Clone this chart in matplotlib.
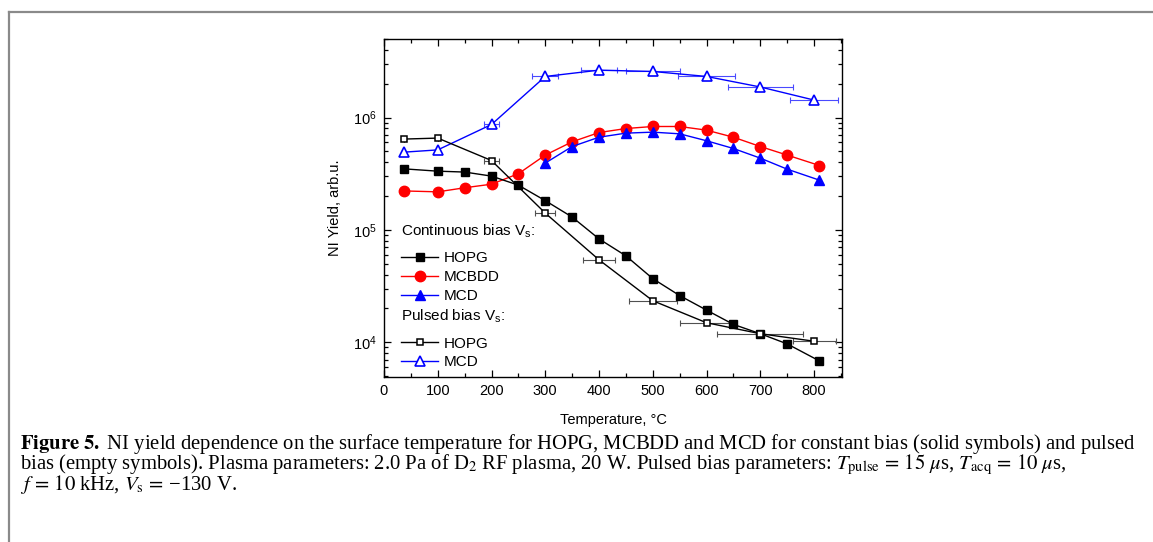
import numpy as np
import matplotlib
matplotlib.use("Agg")
import matplotlib.pyplot as plt
from matplotlib.lines import Line2D
from matplotlib.ticker import LogLocator, MultipleLocator, NullFormatter

plt.rcParams["font.family"] = ["Liberation Sans", "DejaVu Sans"]
plt.rcParams["mathtext.fontset"] = "custom"
plt.rcParams["mathtext.rm"] = "Liberation Sans"
plt.rcParams["mathtext.it"] = "Liberation Sans:italic"
plt.rcParams["mathtext.bf"] = "Liberation Sans:bold"

# ---- data (T in degC, yield in arb.u.) ----
T_hopg = [38, 100, 150, 200, 250, 300, 350, 400, 450, 500, 550, 600, 650, 700, 750, 810]
Y_hopg = [3.49e5, 3.33e5, 3.27e5, 3.01e5, 2.50e5, 1.82e5, 1.30e5, 8.31e4, 5.87e4,
          3.68e4, 2.60e4, 1.93e4, 1.44e4, 1.19e4, 9.66e3, 6.81e3]
T_mcbdd = [38, 100, 150, 200, 250, 300, 350, 400, 450, 500, 550, 600, 650, 700, 750, 810]
Y_mcbdd = [2.22e5, 2.18e5, 2.37e5, 2.55e5, 3.16e5, 4.63e5, 6.08e5, 7.35e5, 7.98e5,
           8.32e5, 8.32e5, 7.72e5, 6.68e5, 5.52e5, 4.63e5, 3.74e5]
T_mcd = [300, 350, 400, 450, 500, 550, 600, 650, 700, 750, 810]
Y_mcd = [3.93e5, 5.52e5, 6.68e5, 7.26e5, 7.41e5, 7.16e5, 6.21e5, 5.30e5, 4.35e5,
         3.47e5, 2.77e5]
# pulsed bias (open symbols) with temperature uncertainty
T_hopg_p = [38, 100, 200, 300, 400, 500, 600, 700, 800]
Y_hopg_p = [6.43e5, 6.56e5, 4.14e5, 1.41e5, 5.41e4, 2.34e4, 1.49e4, 1.19e4, 1.02e4]
dT_hopg_p = [0, 0, 14, 19, 30, 45, 50, 80, 40]
T_mcd_p = [38, 100, 200, 300, 400, 500, 600, 700, 800]
Y_mcd_p = [4.92e5, 5.15e5, 8.67e5, 2.32e6, 2.64e6, 2.57e6, 2.32e6, 1.87e6, 1.43e6]
dT_mcd_p = [0, 0, 14, 24, 33, 50, 53, 60, 45]

fig = plt.figure(figsize=(11.53, 5.42), dpi=100)
ax = fig.add_axes([384 / 1153, 1 - 377 / 542, 458 / 1153, 338 / 542])

lw = 1.0
ax.errorbar(T_hopg_p, Y_hopg_p, xerr=dT_hopg_p, fmt="none", ecolor="#505050",
            elinewidth=0.8, capsize=2.5, capthick=0.8, zorder=2)
ax.errorbar(T_mcd_p, Y_mcd_p, xerr=dT_mcd_p, fmt="none", ecolor="#4a4aff",
            elinewidth=0.8, capsize=2.5, capthick=0.8, zorder=2)

h1, = ax.plot(T_hopg, Y_hopg, "-s", color="black", lw=lw, ms=6, zorder=4)
h2, = ax.plot(T_mcbdd, Y_mcbdd, "-o", color="#ff0000", lw=lw, ms=7.5, zorder=3)
h3, = ax.plot(T_mcd, Y_mcd, "-^", color="#0000ff", lw=lw, ms=7.5, zorder=3)
h4, = ax.plot(T_hopg_p, Y_hopg_p, "-s", color="black", mfc="white", mew=1.1,
              lw=lw, ms=5, zorder=5)
h5, = ax.plot(T_mcd_p, Y_mcd_p, "-^", color="#0000ff", mfc="white", mew=1.2,
              lw=lw, ms=6.5, zorder=3)

ax.set_yscale("log")
ax.set_xlim(0, 852)
ax.set_ylim(4.9e3, 5.0e6)
ax.xaxis.set_major_locator(MultipleLocator(100))
ax.xaxis.set_minor_locator(MultipleLocator(50))
ax.yaxis.set_major_locator(LogLocator(base=10))
ax.yaxis.set_minor_locator(LogLocator(base=10, subs=np.arange(2, 10)))
ax.yaxis.set_minor_formatter(NullFormatter())
ax.tick_params(which="both", direction="in", top=True, right=True,
               labelsize=10.5, width=0.9, pad=5)
ax.tick_params(which="major", length=5)
ax.tick_params(which="minor", length=3)
for s in ax.spines.values():
    s.set_linewidth(1.0)

ax.set_xlabel("Temperature, °C", fontsize=10.5, labelpad=11)
ax.set_ylabel("NI Yield, arb.u.", fontsize=10.5, labelpad=8)

leg_kw = dict(frameon=False, fontsize=11, handlelength=2.4, handletextpad=0.35,
              labelspacing=0.32, borderpad=0, borderaxespad=0, alignment="left",
              loc="upper left", title_fontsize=11)
leg1 = ax.legend([h1, h2, h3], ["HOPG", "MCBDD", "MCD"],
                 title="Continuous bias V$_\\mathrm{s}$:",
                 bbox_to_anchor=(0.038, 0.457), **leg_kw)
leg1._legend_box.sep = 0.32 * 11 + 4.5   # extra gap under the header
ax.add_artist(leg1)
leg2 = ax.legend([h4, h5], ["HOPG", "MCD"], title="Pulsed bias V$_\\mathrm{s}$:",
                 bbox_to_anchor=(0.038, 0.204), **leg_kw)
leg2._legend_box.sep = 0.32 * 11 + 4.5

# figure frame (top and left rules)
fc = "#8a8a8a"
fig.add_artist(Line2D([8.5 / 1153, 1], [1 - 12 / 542] * 2, color=fc, lw=1.6,
                      transform=fig.transFigure))
fig.add_artist(Line2D([8.5 / 1153] * 2, [0, 1 - 12 / 542], color=fc, lw=1.6,
                      transform=fig.transFigure))

caption = "\n".join([
    r"$\mathbf{Figure\ 5.}$ NI yield dependence on the surface temperature for HOPG, "
    r"MCBDD and MCD for constant bias (solid symbols) and pulsed",
    r"bias (empty symbols). Plasma parameters: 2.0 Pa of D$_2$ RF plasma, 20 W. "
    r"Pulsed bias parameters: $T_{\rm pulse}\,=\,15\ \mu$s, $T_{\rm acq}\,=\,10\ \mu$s,",
    "$f\\,=\\,10$ kHz, $V_{\\rm s}\\,=\\,$\u2212130 V.",
])
fig.text(20 / 1153, 1 - 432 / 542, caption, fontsize=14.9,
         family=["Liberation Serif", "DejaVu Serif"], math_fontfamily="stix",
         ha="left", va="top", linespacing=0.78)

fig.savefig("out.png", dpi=100)
